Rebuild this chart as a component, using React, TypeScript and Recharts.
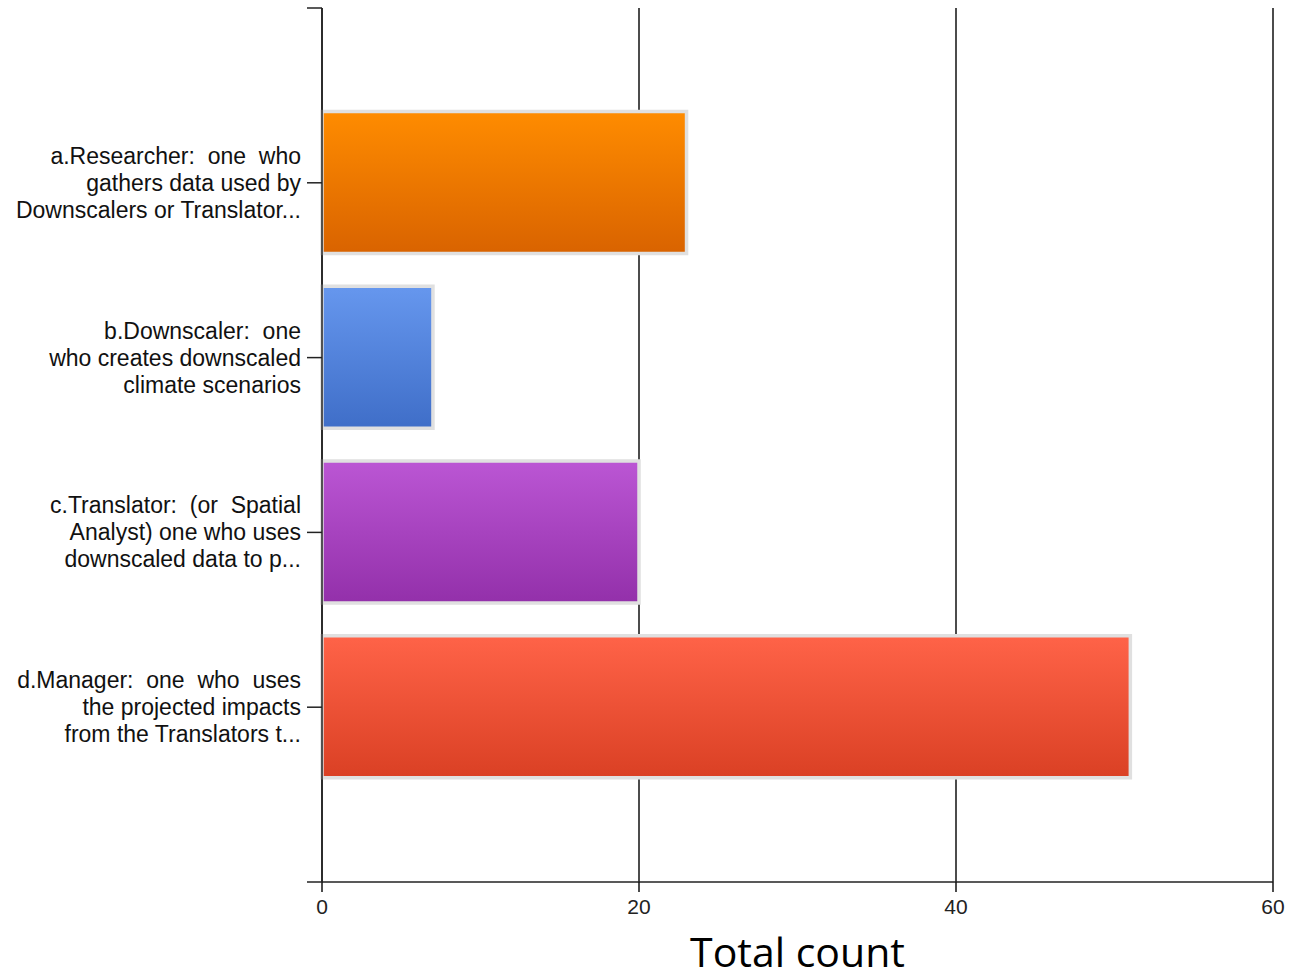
import React from 'react';
import { BarChart, Bar, XAxis, YAxis, CartesianGrid, Cell } from 'recharts';

// survey roles, one bar per role
const roleLines = [
  ['a.Researcher:  one  who', 'gathers data used by', 'Downscalers or Translator...'],
  ['b.Downscaler:  one', 'who creates downscaled', 'climate scenarios'],
  ['c.Translator:  (or  Spatial', 'Analyst) one who uses', 'downscaled data to p...'],
  ['d.Manager:  one  who  uses', 'the projected impacts', 'from the Translators t...'],
];
const totalCounts = [23, 7, 20, 51];
const countTicks = [0, 20, 40, 60];
const rowTicks = [0, 1, 2, 3, 4, 5];

const gradients = [
  { id: 'gOrange', top: '#ff8c00', bottom: '#d96300' },
  { id: 'gBlue', top: '#6697ee', bottom: '#3f6ec8' },
  { id: 'gPurple', top: '#bb56d4', bottom: '#9330aa' },
  { id: 'gRed', top: '#ff6348', bottom: '#da4024' },
];

const data = totalCounts.map((count, i) => ({ row: i + 1, count }));

const labelFont = '"Liberation Sans", Arial, sans-serif';

const RoleTick = (props: any) => {
  const { x, y, payload } = props;
  const lines = roleLines[payload.value - 1];
  if (!lines) return null;
  return (
    <text
      x={x - 4}
      y={y}
      textAnchor="end"
      fontFamily={labelFont}
      fontSize={23}
      fill="#111"
      style={{ whiteSpace: 'pre' }}
    >
      {lines.map((line, i) => (
        <tspan key={i} x={x - 4} y={y + (i - 1) * 27 + 8}>
          {line}
        </tspan>
      ))}
    </text>
  );
};

export default function App() {
  return (
    <div style={{ position: 'absolute', left: 0, top: 0, background: '#fff' }}>
      <BarChart
        width={1291}
        height={978}
        data={data}
        layout="vertical"
        margin={{ top: 8, right: 18, left: 0, bottom: 0 }}
      >
        <defs>
          {gradients.map((g) => (
            <linearGradient key={g.id} id={g.id} x1="0" y1="0" x2="0" y2="1">
              <stop offset="0%" stopColor={g.top} />
              <stop offset="100%" stopColor={g.bottom} />
            </linearGradient>
          ))}
        </defs>
        <CartesianGrid horizontal={false} stroke="#111" strokeWidth={1.5} />
        <XAxis
          type="number"
          domain={[0, 60]}
          ticks={countTicks}
          height={96}
          tickSize={10}
          axisLine={{ stroke: '#222', strokeWidth: 1.5 }}
          tickLine={{ stroke: '#111', strokeWidth: 1.5 }}
          tick={{ fontFamily: labelFont, fontSize: 21, fill: '#222', dy: 5 }}
          label={{
            value: 'Total count',
            position: 'insideBottom',
            offset: 11,
            style: { fontFamily: '"Open Sans", Lato, sans-serif', fontSize: 41, fill: '#000' },
          }}
        />
        <YAxis
          type="number"
          dataKey="row"
          domain={[0, 5]}
          ticks={rowTicks}
          width={322}
          tickSize={15}
          axisLine={{ stroke: '#222', strokeWidth: 1.5 }}
          tickLine={{ stroke: '#222', strokeWidth: 1.5 }}
          tick={<RoleTick />}
          interval={0}
        />
        <Bar
          dataKey="count"
          barSize={142}
          stroke="#e0e0e0"
          strokeWidth={3.5}
          isAnimationActive={false}
        >
          {data.map((d, i) => (
            <Cell key={d.row} fill={`url(#${gradients[i].id})`} />
          ))}
        </Bar>
      </BarChart>
    </div>
  );
}
